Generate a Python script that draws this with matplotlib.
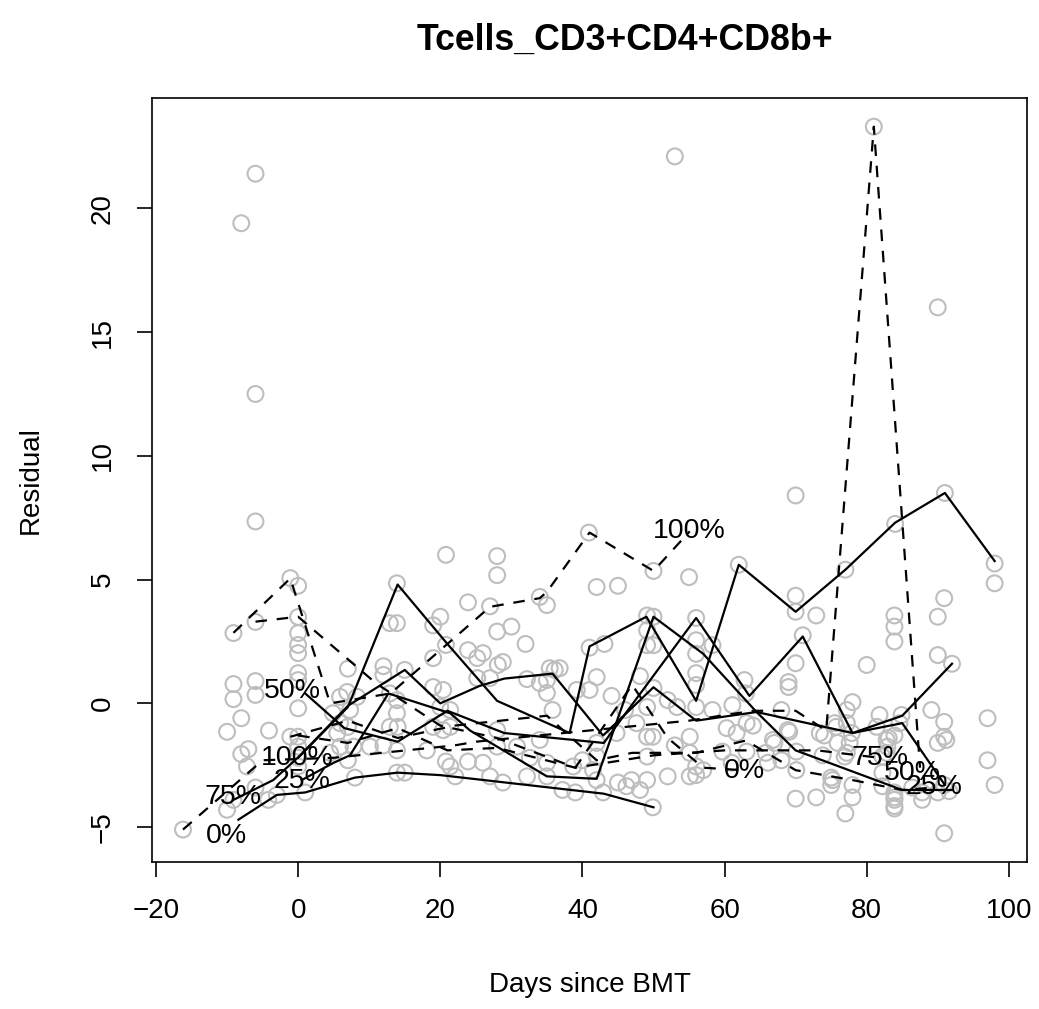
import matplotlib
matplotlib.use("Agg")
import matplotlib.pyplot as plt

plt.rcParams["font.family"] = ["Liberation Sans", "DejaVu Sans"]

# residual points (days since BMT, residual)
pts_x = [
    -6, -8, -6, -6, 53, 81, 90, 70, 91, 84, 77,
    20.8, -1.1, 0, -9.1, -6, 0, 0, 0, 0, 0, 0, 0, -9.1, -9.1, -6, -6, -8, -10, -4.1,
    -8, -7, -7.2, -1.1, 0, 0, 0, 0, -16.2, -9.1, -10, -6, -4.2, -3, 1, 8, 13.9, 15,
    7, 12, 12, 15, 13.9, 12.9, 20, 19, 20.8, 19, 6.9, 5.9, 8.3, 4.9, 7.3, 12.9, 13.9,
    13.9, 12.9, 14, 19, 20.4, 20, 19, 20.4, 10.1, 13.9, 12, 7.8, 5.9, 5.5, 5.9, 7,
    18.1, 20.8, 4.5, 7, 13.9,
    28, 28, 23.9, 27, 34, 35, 40.9, 42, 45, 50, 55, 62, 28, 30, 32, 23.9, 41, 43.1,
    49.1, 50, 49.1, 49.1, 50, 56, 56, 56, 56, 56, 58.3, 28.1, 28.8, 27, 25.2, 25.2, 26,
    32.2, 34, 35, 36.8, 35.4, 36.1, 35, 35.8, 39.2, 41, 42, 44.1, 46, 48.1, 50, 49.1,
    52, 53.3, 56, 58.3, 62.8, 21.4, 21.4, 21.4, 22.1, 23.9, 26, 27, 28.8, 28, 28, 30.8,
    34, 32.6, 35, 32.2, 37.2, 39, 35, 38.7, 40, 42, 42, 41.5, 42, 42.9, 45, 46.2, 46.9,
    48.1, 49.1, 49.9, 44.8, 47.6, 49.1, 49.9, 49.1, 52, 53, 55.1, 55.1, 56, 56, 57,
    55.1, 60.3, 61.7, 63.1, 61,
    98, 98, 70, 70, 72.9, 90.9, 90, 83.9, 83.9, 83.9, 71, 70, 69, 69, 80, 90, 92, 78,
    77.2, 74, 75.7, 81.8, 84.9, 89.1, 90.9, 90.9, 90, 97, 97, 98, 90.9, 68, 68.9, 66.8,
    65.8, 70.1, 70.1, 68, 70, 72.9, 75, 75, 77.6, 76.9, 78, 78, 77, 82.2, 82.2, 82.2,
    83.1, 82.9, 83.9, 83.9, 90.9, 90, 91.6, 87.8, 87.8, 63, 61.1, 64, 67, 69.1, 59.7,
    63.1, 66.1, 73.4, 75.5, 77.2, 77.9, 75.9, 77.2, 73.8, 75.2, 81.4, 82.8, 83.9, 84.6,
    82.8, 83.9, 83.9, 83.9, 91.2, 86.4,
]
pts_y = [
    21.4, 19.4, 12.5, 7.35, 22.1, 23.3, 16.0, 8.4, 8.5, 7.25, 5.4,
    6.0, 5.06, 4.75, 2.84, 3.29, 3.49, 2.84, 2.36, 2.03, 1.22, 0.94, -0.2, 0.78, 0.17,
    0.9, 0.34, -0.6, -1.15, -1.1,
    -2.05, -1.85, -2.55, -1.35, -1.35, -1.75, -2.2, -2.55, -5.1, -3.9, -4.3, -3.4, -3.9,
    -3.7, -3.6, -3.0, -2.8, -2.8,
    1.4, 1.5, 1.15, 1.35, 3.24, 3.24, 3.5, 3.15, 2.36, 1.83, 0.46, 0.26, 0.26, -0.4,
    -0.27, 0.4, 0.13,
    -0.4, -0.95, -0.95, 0.66, 0.54, -0.15, -0.95, -1.08, -1.75, -1.9, -1.7, -1.75, -1.75,
    -1.2, -0.8, -0.95,
    -1.9, -2.35, -2.0, -2.3, 4.85,
    5.95, 5.18, 4.08, 3.92, 4.3, 3.97, 6.9, 4.7, 4.75, 5.35, 5.1, 5.6, 2.9, 3.1, 2.4,
    2.15, 2.25, 2.4,
    3.55, 3.5, 2.95, 2.35, 2.35, 3.45, 2.55, 2.0, 1.22, 0.74, 2.35, 1.55, 1.67, 1.02,
    1.02, 1.83, 2.03,
    0.98, 0.82, 0.94, 1.42, 1.42, 1.35, 0.42, -0.27, 0.54, 0.54, 1.06, 0.3, -0.27, 1.1,
    0.62, -0.15,
    0.13, -0.15, -0.15, -0.27, 0.94, -0.27, -0.95, -2.55, -2.95, -2.35, -2.4, -2.95,
    -3.2, -1.75, -1.08, -1.75,
    -1.48, -2.2, -2.4, -2.95, -3.5, -3.6, -2.95, -2.55, -2.3, -2.15, -1.6, -2.7, -3.1,
    -3.6, -3.2, -3.35, -3.1,
    -3.5, -3.1, -4.2, -1.2, -0.8, -1.35, -1.35, -2.15, -2.95, -1.7, -1.35, -2.0, -2.55,
    -2.9, -2.7,
    -2.95, -1.0, -1.2, -0.8, -2.4,
    5.65, 4.85, 4.35, 3.7, 3.55, 4.25, 3.5, 3.55, 3.1, 2.5, 2.75, 1.62, 0.86, 0.66, 1.55,
    1.95, 1.6, 0.05,
    -0.27, -1.3, -0.95, -0.47, -0.47, -0.27, -0.75, -1.35, -1.6, -0.6, -2.3, -3.3, -5.25,
    -0.27, -1.08, -1.48,
    -2.0, -1.95, -2.7, -2.3, -3.85, -3.8, -3.0, -3.3, -1.6, -2.15, -3.3, -3.8, -4.45,
    -2.15, -2.8, -3.35,
    -1.4, -1.75, -3.8, -4.25, -3.3, -3.6, -3.55, -3.6, -3.9, 0.4, -0.07, -0.9, -1.6,
    -1.15, -1.95,
    -1.95, -2.4, -1.2, -0.8, -0.8, -1.2, -1.6, -2.0, -2.1, -3.1, -0.95, -1.48, -1.3, -0.8,
    -2.0, -3.6, -3.9, -4.15, -1.48, -3.4,
]

# solid trajectories (labelled at their start)
solid_x = {
    "0%": [-8.4, -3, 1, 8, 14, 20, 43, 50],
    "75%": [-9.1, -3.5, 0.3, 7, 15, 20, 25.5, 29, 35.8, 42.9, 50, 56, 64.5, 78, 85, 91],
    "25%": [0.5, 5, 7.3, 12.7, 21.4, 24.2, 35, 42, 50, 57, 64.5, 70, 85, 92],
    "100%": [0, 7, 14, 21, 28, 38.2, 41, 49, 56, 62, 70, 77, 84, 91, 98],
    "50%": [1, 6.5, 14, 21, 29, 43, 56, 63.5, 71, 78, 85, 92],
}
solid_y = {
    "0%": [-4.7, -3.7, -3.6, -3.0, -2.8, -2.9, -3.65, -4.2],
    "75%": [-3.9, -3.1, -2.1, -0.1, 1.35, 0.0, 0.7, 1.0, 1.2, -1.3, 0.65, -0.7, -0.35,
            -1.2, -0.8, -3.3],
    "25%": [-3.1, -2.4, -2.1, 0.4, -0.4, -1.1, -2.95, -3.05, 3.5, 2.0, -0.35, -1.9,
            -3.5, -3.5],
    "100%": [-2.2, -0.15, 4.8, 2.4, 0.1, -1.2, 2.3, 3.5, 0.1, 5.6, 3.7, 5.4, 7.3, 8.5,
             5.75],
    "50%": [0.4, -1.0, -1.55, -0.3, -1.2, -1.6, 3.45, 0.3, 2.7, -1.2, -0.5, 1.6],
}

# dashed trajectories (labelled at their end)
dashed_x = {
    "100%": [-9.1, -1.1, 4.5, 13, 27, 34, 35, 41, 50, 55.1],
    "0%": [-6, 0, 11, 20, 28, 39, 47, 52, 57, 62.5],
    "75%": [0, 7, 14, 21, 28, 39, 50, 60, 73, 81.8],
    "50%": [-16.2, -5, 5, 22, 25, 55, 64, 70, 74.3, 81, 87.5],
    "25%": [-1.1, 7, 14, 22, 35, 42, 47, 56, 63, 70, 78, 85, 89.5],
}
dashed_y = {
    "100%": [2.85, 5.05, 0.0, 0.4, 3.9, 4.25, 4.5, 6.9, 5.35, 6.95],
    "0%": [3.3, 3.5, 0.8, -0.9, -1.4, -2.6, 0.75, -1.4, -2.6, -2.7],
    "75%": [-1.3, -1.6, -1.0, -1.9, -1.8, -2.6, -2.1, -1.9, -1.9, -2.2],
    "50%": [-5.1, -2.3, -2.2, -1.7, -1.55, -0.7, -0.3, -0.3, -1.1, 23.3, -2.6],
    "25%": [-1.35, -0.7, -1.4, -0.9, -0.5, -2.3, -2.0, -2.0, -1.5, -2.7, -3.1, -3.5, -3.4],
}

# label anchor positions
start_labels = {"0%": (-10.1, -5.35), "75%": (-9.1, -3.78), "25%": (0.56, -3.13),
                "100%": (-0.14, -2.2), "50%": (-0.84, 0.5)}
end_labels = {"100%": (55.1, 6.96), "0%": (62.8, -2.72), "75%": (81.8, -2.2),
              "50%": (86.4, -2.8), "25%": (89.5, -3.37)}

fig = plt.figure(figsize=(10.39, 10.09), dpi=100)
ax = fig.add_axes([0.1463, 0.1457, 0.8422, 0.7572])

ax.scatter(pts_x, pts_y, s=130, facecolors="none", edgecolors="#bebebe",
           linewidths=1.5, zorder=1)

for key in solid_x:
    ax.plot(solid_x[key], solid_y[key], color="black", lw=1.6, zorder=2)
for key in dashed_x:
    ax.plot(dashed_x[key], dashed_y[key], color="black", lw=1.6,
            ls=(0, (5.2, 4.4)), zorder=2)

for key, (x, y) in start_labels.items():
    ax.text(x, y, key, fontsize=20.5, ha="center", va="center", zorder=3)
for key, (x, y) in end_labels.items():
    ax.text(x, y, key, fontsize=20.5, ha="center", va="center", zorder=3)

ax.set_xlim(-20.56, 102.56)
ax.set_ylim(-6.41, 24.46)
ax.set_xticks([-20, 0, 20, 40, 60, 80, 100])
ax.set_yticks([-5, 0, 5, 10, 15, 20])
ax.tick_params(axis="both", direction="out", length=11, width=1.2, labelsize=20, pad=15)
for lab in ax.get_yticklabels():
    lab.set_rotation(90)
    lab.set_va("center")
for sp in ax.spines.values():
    sp.set_linewidth(1.2)

ax.set_xlabel("Days since BMT", fontsize=20, va="center")
ax.xaxis.set_label_coords(0.5, -0.161)
ax.set_ylabel("Residual", fontsize=20, va="center")
ax.yaxis.set_label_coords(-0.139, 0.5)
ax.set_title("Tcells_CD3+CD4+CD8b+", fontsize=25.7, fontweight="bold", x=0.5406,
             y=1.076, va="center", pad=0)

fig.savefig("out.png", dpi=100)
